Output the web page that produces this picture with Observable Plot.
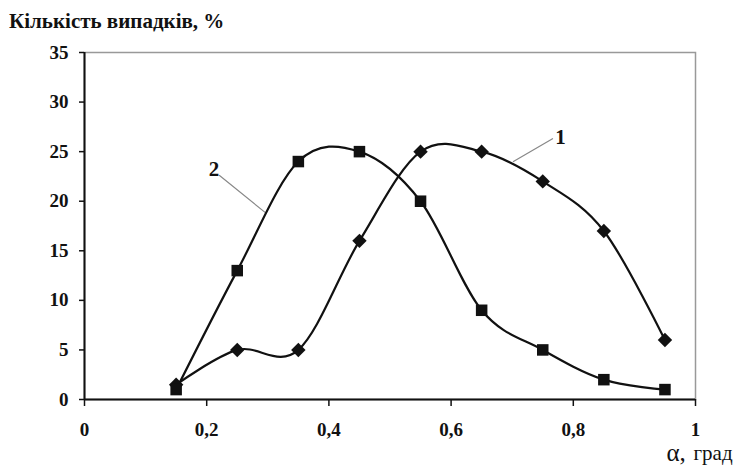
<!DOCTYPE html>
<html><head><meta charset="utf-8">
<script src="https://cdn.jsdelivr.net/npm/d3@7"></script>
<script src="https://cdn.jsdelivr.net/npm/@observablehq/plot@0.6"></script>
<style>
body{margin:0;background:#fff;font-family:"Liberation Serif","Times New Roman",serif;}
#wrap{width:740px;height:465px;position:relative;overflow:hidden;}
#title{position:absolute;left:9px;top:9px;font-size:21px;font-weight:bold;color:#111;}
#chart{position:absolute;left:0;top:40px;}
</style></head>
<body><div id="wrap"><div id="title">Кількість випадків, %</div><div id="chart"></div></div>
<script>
const alpha = [0.15, 0.25, 0.35, 0.45, 0.55, 0.65, 0.75, 0.85, 0.95];
const series1 = [1.5, 5, 5, 16, 25, 25, 22, 17, 6];
const series2 = [1, 13, 24, 25, 20, 9, 5, 2, 1];
const xTicks = [0, 0.2, 0.4, 0.6, 0.8, 1];
const xTickLabels = ["0", "0,2", "0,4", "0,6", "0,8", "1"];
const yTicks = [0, 5, 10, 15, 20, 25, 30, 35];
const seriesLabels = ["1", "2"];
const labelPos = [[0.779, 26.4], [0.212, 23.2]];
const leader1 = [[0.766, 26.3], [0.702, 24.0]];
const leader2 = [[0.221, 22.6], [0.295, 18.9]];

const d1 = alpha.map((a, i) => ({x: a, y: series1[i]}));
const d2 = alpha.map((a, i) => ({x: a, y: series2[i]}));
const labs = seriesLabels.map((t, i) => ({t, x: labelPos[i][0], y: labelPos[i][1]}));
const curve = d3.curveCatmullRom.alpha(0);
const ff = "Liberation Serif, Times New Roman, serif";

const plot = Plot.plot({
  width: 740, height: 425,
  marginLeft: 84, marginRight: 45, marginTop: 12, marginBottom: 66,
  style: {fontFamily: ff, fontSize: "19px", fontWeight: "bold", color: "#111", background: "white", overflow: "visible"},
  x: {domain: [0, 1], label: null},
  y: {domain: [0, 35], label: null},
  marks: [
    Plot.frame({stroke: "#999", strokeWidth: 1.5}),
    Plot.axisX({ticks: xTicks, tickFormat: d => xTickLabels[xTicks.indexOf(d)], tickSize: 7, tickPadding: 16, stroke: "#111", strokeWidth: 1.5, fontSize: 19, label: null}),
    Plot.axisY({ticks: yTicks, tickSize: 5, tickPadding: 11, stroke: "#111", strokeWidth: 1.5, fontSize: 19, label: null}),
    Plot.ruleY([0], {stroke: "#111", strokeWidth: 2}),
    Plot.ruleX([0], {stroke: "#111", strokeWidth: 2}),
    Plot.line(leader1, {x: d => d[0], y: d => d[1], stroke: "#888", strokeWidth: 1.2}),
    Plot.line(leader2, {x: d => d[0], y: d => d[1], stroke: "#888", strokeWidth: 1.2}),
    Plot.line(d1, {x: "x", y: "y", curve, stroke: "#111", strokeWidth: 2.2}),
    Plot.line(d2, {x: "x", y: "y", curve, stroke: "#111", strokeWidth: 2.2}),
    Plot.dot(d1, {x: "x", y: "y", symbol: "diamond2", r: 6.5, fill: "#111", stroke: "none"}),
    Plot.dot(d2, {x: "x", y: "y", symbol: "square", r: 6.5, fill: "#111", stroke: "none"}),
    Plot.text(labs, {x: "x", y: "y", text: "t", fontSize: 21, fontWeight: "bold", fill: "#111"}),
    Plot.text(["α,"], {frameAnchor: "bottom-right", dx: -29, dy: 61, textAnchor: "start", lineAnchor: "bottom", fontSize: 25, fontWeight: "normal", fill: "#111"}),
    Plot.text(["град"], {frameAnchor: "bottom-right", dx: -2, dy: 60, textAnchor: "start", lineAnchor: "bottom", fontSize: 21, fontWeight: "normal", fill: "#111"})
  ]
});
document.getElementById("chart").appendChild(plot);
</script></body></html>
